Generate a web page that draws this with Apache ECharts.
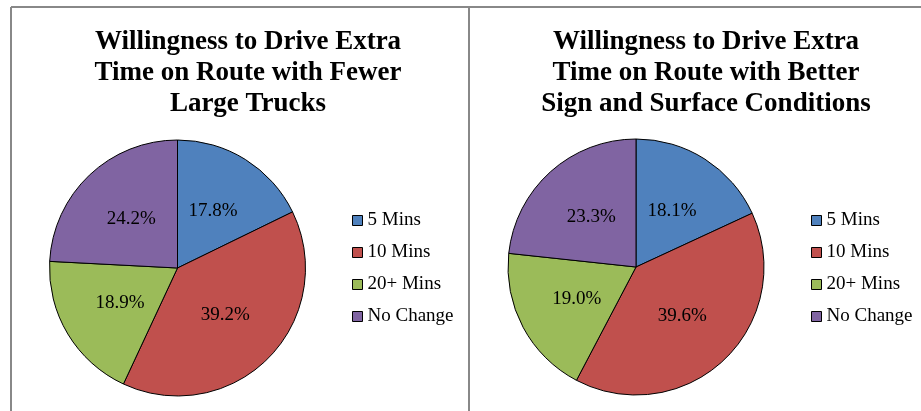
<!DOCTYPE html>
<html>
<head>
<meta charset="utf-8">
<script src="https://cdn.jsdelivr.net/npm/echarts@6/dist/echarts.min.js"></script>
<style>
  html, body { margin: 0; padding: 0; background: #fff; }
  #chart { width: 921px; height: 411px; }
</style>
</head>
<body>
<div id="chart"></div>
<script>
const categories = ['5 Mins', '10 Mins', '20+ Mins', 'No Change'];
const fewerTrucks = [17.8, 39.2, 18.9, 24.2];
const betterSigns = [18.1, 39.6, 19.0, 23.3];
const colors = ['#4F81BD', '#C0504D', '#9BBB59', '#8064A2'];

const titleLeft = 'Willingness to Drive Extra\nTime on Route with Fewer\nLarge Trucks';
const titleRight = 'Willingness to Drive Extra\nTime on Route with Better\nSign and Surface Conditions';

const serif = '"Liberation Serif", "Times New Roman", serif';

const chart = echarts.init(document.getElementById('chart'));

const makePie = (name, values, center) => ({
  name: name,
  type: 'pie',
  center: center,
  radius: 128,
  startAngle: 90,
  clockwise: true,
  animation: false,
  label: {
    show: true,
    position: 'inside',
    color: '#000',
    fontFamily: serif,
    fontSize: 19,
    formatter: p => p.value.toFixed(1) + '%',
  },
  labelLine: { show: false },
  itemStyle: { borderColor: '#000', borderWidth: 1 },
  emphasis: { disabled: true },
  data: categories.map((c, i) => ({
    name: c,
    value: values[i],
    itemStyle: { color: colors[i] },
  })),
});

const makeLegend = (left) => ({
  orient: 'vertical',
  left: left,
  top: 211,
  padding: 0,
  itemWidth: 10,
  itemHeight: 10,
  itemGap: 13,
  icon: 'rect',
  selectedMode: false,
  data: categories,
  itemStyle: { borderColor: '#000', borderWidth: 1 },
  textStyle: { fontFamily: serif, fontSize: 19, color: '#000' },
});

const titleStyle = {
  fontFamily: serif,
  fontSize: 27,
  fontWeight: 'bold',
  color: '#000',
  lineHeight: 31,
};

chart.setOption({
  backgroundColor: '#fff',
  title: [
    { text: titleLeft, left: 243, top: 22, textAlign: 'center', textStyle: titleStyle },
    { text: titleRight, left: 701, top: 22, textAlign: 'center', textStyle: titleStyle },
  ],
  legend: [makeLegend(352), makeLegend(811)],
  series: [
    makePie('Fewer Large Trucks', fewerTrucks, [177.5, 268]),
    makePie('Better Sign and Surface', betterSigns, [636, 267]),
  ],
  graphic: [
    { type: 'line', shape: { x1: 11, y1: 7, x2: 921, y2: 7 }, style: { stroke: '#888', lineWidth: 2 } },
    { type: 'line', shape: { x1: 11, y1: 7, x2: 11, y2: 411 }, style: { stroke: '#888', lineWidth: 2 } },
    { type: 'line', shape: { x1: 469, y1: 7, x2: 469, y2: 411 }, style: { stroke: '#888', lineWidth: 2 } },
  ],
});

window.addEventListener('resize', chart.resize);
</script>
</body>
</html>
